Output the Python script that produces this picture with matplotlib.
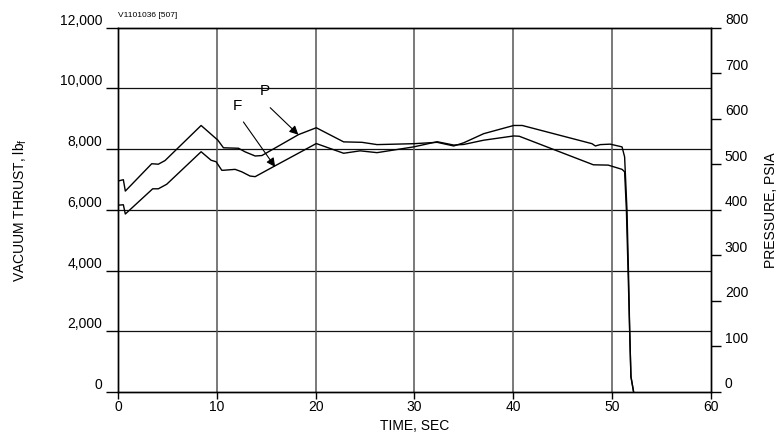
"""Vacuum thrust and chamber pressure versus time (static firing trace)."""

import matplotlib

matplotlib.use("Agg")
import matplotlib.pyplot as plt
from matplotlib.ticker import FuncFormatter
from matplotlib.transforms import ScaledTranslation

# Thrust trace F (left axis, lbf)
f_time = [0, 0, 0.54, 0.74, 3.51, 4.08, 4.93, 8.41, 9.42, 9.93, 10.5, 10.67,
          11.85, 12.52, 13.36, 13.88, 15.74, 20.06, 22.83, 24.5, 26.21, 29.92,
          32.29, 33.97, 34.98, 37.0, 40.04, 40.6, 48.1, 49.6, 51.0, 51.26,
          51.44, 51.62, 51.77, 51.9, 52.17]
f_thrust = [0, 6150, 6165, 5860, 6690, 6690, 6840, 7910, 7630, 7580, 7300, 7300,
            7330, 7250, 7110, 7090, 7420, 8180, 7860, 7940, 7880, 8070,
            8240, 8130, 8150, 8290, 8430, 8420, 7480, 7470, 7330, 7250,
            5990, 3850, 2040, 500, 0]

# Pressure trace P (right axis, psia)
p_time = [0, 0, 0.54, 0.74, 3.41, 4.08, 4.76, 8.41, 9.93, 10.06, 10.5, 10.67,
          12.19, 12.87, 13.88, 14.56, 18.27, 20.06, 22.83, 24.69, 26.21, 29.92,
          32.29, 33.97, 34.98, 37.0, 40.04, 40.9, 47.96, 48.3, 48.8, 49.8,
          51.0, 51.26, 51.5, 51.67, 51.77, 51.9, 52.17]
p_psia = [0, 463, 466, 441, 501, 500, 508, 585, 556, 554, 541, 536,
          535, 527, 518, 519, 565, 580, 549, 548, 543, 545,
          548, 540, 547, 567, 585, 585, 545, 540, 543, 544,
          538, 516, 399, 246, 136, 34, 0]

x_ticks = [0, 10, 20, 30, 40, 50, 60]
thrust_ticks = [0, 2000, 4000, 6000, 8000, 10000, 12000]
psia_ticks = [0, 100, 200, 300, 400, 500, 600, 700, 800]

FONT = "Liberation Sans"


def lift_labels(fig, ticks, dy_pt):
    shift = ScaledTranslation(0, dy_pt / 72, fig.dpi_scale_trans)
    for tick in ticks:
        for lbl in (tick.label1, tick.label2):
            lbl.set_transform(lbl.get_transform() + shift)


def main() -> None:
    plt.rcParams["font.family"] = [FONT, "DejaVu Sans"]
    plt.rcParams["mathtext.fontset"] = "custom"
    plt.rcParams["mathtext.rm"] = FONT

    fig = plt.figure(figsize=(7.82, 4.36), dpi=100)
    ax = fig.add_axes([0.1509, 0.1009, 0.7583, 0.836])
    ax2 = ax.twinx()

    ax.set_xlim(0, 60)
    ax.set_ylim(0, 12000)
    ax2.set_ylim(0, 800)
    ax.set_xticks(x_ticks)
    ax.set_yticks(thrust_ticks)
    ax2.set_yticks(psia_ticks)
    ax.yaxis.set_major_formatter(FuncFormatter(lambda v, _: f"{int(v):,}"))

    # grid: horizontal lines black, vertical ones a touch lighter
    for v in thrust_ticks[1:-1]:
        ax.axhline(v, color="#111111", lw=0.9, zorder=1)
    for v in x_ticks[1:-1]:
        ax.axvline(v, color="#555555", lw=1.1, zorder=1)

    ax.plot(f_time, f_thrust, color="black", lw=1.0, zorder=3)
    ax2.plot(p_time, p_psia, color="black", lw=1.0, zorder=3)

    for spine in list(ax.spines.values()) + list(ax2.spines.values()):
        spine.set_linewidth(1.0)
        spine.set_color("black")

    ax.tick_params(axis="y", direction="out", length=8.5, width=1.0, pad=3,
                   labelsize=10, colors="black")
    ax.tick_params(axis="x", direction="out", length=5, width=1.0, pad=1,
                   labelsize=10, colors="black")
    ax2.tick_params(axis="y", direction="out", length=7, width=1.0, pad=3,
                    labelsize=10, colors="black")
    lift_labels(fig, ax.yaxis.get_major_ticks(), 6.0)
    lift_labels(fig, ax2.yaxis.get_major_ticks(), 6.5)

    ax.set_xlabel("TIME, SEC", fontsize=10, labelpad=3)
    ax.set_ylabel(r"VACUUM THRUST, lb$_{\mathregular{f}}$", fontsize=10, labelpad=22)
    ax2.set_ylabel("PRESSURE, PSIA", fontsize=10, labelpad=11)

    ax.text(0.0, 1.033, "V1101036 [507]", transform=ax.transAxes,
            fontsize=6, va="center", ha="left")

    arrow = dict(arrowstyle="-|>", color="black", lw=0.8, mutation_scale=13,
                 shrinkA=0, shrinkB=0)
    ax.annotate("", xy=(18.25, 8470), xytext=(15.4, 9360), arrowprops=arrow)
    ax.annotate("", xy=(15.9, 7410), xytext=(12.69, 8890), arrowprops=arrow)
    ax.text(14.9, 9900, "P", fontsize=11, ha="center", va="center")
    ax.text(12.05, 9400, "F", fontsize=11, ha="center", va="center")

    fig.savefig("out.png", dpi=100)


if __name__ == "__main__":
    main()
